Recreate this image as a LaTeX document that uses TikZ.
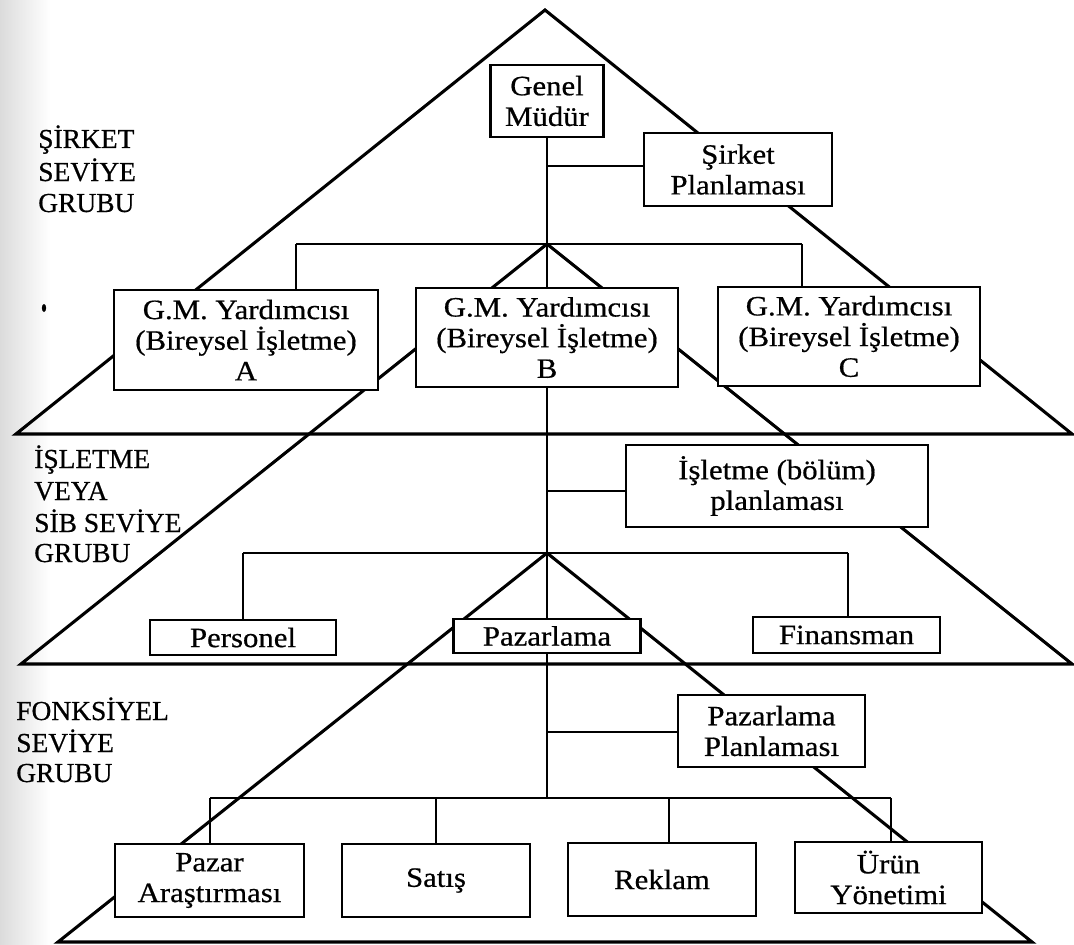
\documentclass[tikz,border=0pt]{standalone}
\usepackage{fontspec}
\setmainfont{Liberation Serif}[FakeBold=0.6]
\newfontfamily\boxfont{Liberation Serif}[FakeStretch=1.1,FakeBold=0.6]
\usetikzlibrary{calc}
\pgfdeclarelayer{background}
\pgfsetlayers{background,main}
\begin{document}
\begin{tikzpicture}[x=0.75pt,y=-0.75pt,
  tri/.style={line width=2.3pt, line join=miter},
  link/.style={line width=1.7pt},
  unit/.style={draw, line width=1.8pt, fill=white, inner sep=0pt, align=center,
    font=\boxfont\fontsize{21}{23}\selectfont},
  sz/.style 2 args={minimum width=#1*0.75pt, minimum height=#2*0.75pt},
  lvl/.style={anchor=base west, inner sep=0pt, font=\fontsize{20.6}{24}\selectfont}]
\useasboundingbox (0,0) rectangle (1074,945);

% corner points of the three level triangles and the branch points
\coordinate (top) at (545,10);
\coordinate (t1l) at (16,434);
\coordinate (t1r) at (1072,434);
\coordinate (j1) at (547,244);
\coordinate (t2l) at (21,664);
\coordinate (t2r) at (1072,664);
\coordinate (j2) at (547,553);
\coordinate (t3l) at (58,942);
\coordinate (t3r) at (1032,942);
\coordinate (j3) at (547,798);
\coordinate (b1l) at (296,244);
\coordinate (b1r) at (802,244);
\coordinate (b2l) at (243,553);
\coordinate (b2r) at (848,553);
\coordinate (b3l) at (210,798);
\coordinate (b3r) at (891,798);
\coordinate (b3s) at (436,798);
\coordinate (b3k) at (669,798);
% tee points of the planning staff lines
\coordinate (tsp) at (547,166);
\coordinate (tip) at (547,491);
\coordinate (tpp) at (547,732);

% company level
\node[unit, sz={113}{72}] (gm) at (547,101) {Genel\\Müdür};
\node[unit, sz={188}{73}] (sp) at (738,169.5) {Şirket\\Planlaması};
\node[unit, sz={264}{100}] (ga) at (246,340) {G.M. Yardımcısı\\(Bireysel İşletme)\\A};
\node[unit, sz={262}{99}] (gb) at (547,337.5) {G.M. Yardımcısı\\(Bireysel İşletme)\\B};
\node[unit, sz={262}{99}] (gc) at (849,336.5) {G.M. Yardımcısı\\(Bireysel İşletme)\\C};

% business level
\node[unit, sz={302}{82}] (ip) at (777,486) {İşletme (bölüm)\\planlaması};
\node[unit, sz={186}{35}] (per) at (243,637.5) {Personel};
\node[unit, sz={187}{34}] (paz) at (547,636) {Pazarlama};
\node[unit, sz={187}{36}] (fin) at (846.5,635) {Finansman};

% functional level
\node[unit, sz={187}{72}] (pp) at (771.5,731) {Pazarlama\\Planlaması};
\node[unit, sz={189}{73}] (pa) at (209.5,880.5) {Pazar\\Araştırması};
\node[unit, sz={188}{73}] (sat) at (436,880.5) {Satış};
\node[unit, sz={188}{73}] (rek) at (662,879.5) {Reklam};
\node[unit, sz={187}{71}] (urun) at (888.5,877.5) {Ürün\\Yönetimi};

% level captions
\node[lvl] (s1) at (38,148) {ŞİRKET};
\node[lvl] (s2) at (38,181) {SEVİYE};
\node[lvl] (s3) at (38,212) {GRUBU};
\node[lvl] (i1) at (34,468) {İŞLETME};
\node[lvl] (i2) at (34,500) {VEYA};
\node[lvl] (i3) at (34,532) {SİB SEVİYE};
\node[lvl] (i4) at (34,562) {GRUBU};
\node[lvl] (f1) at (16,720) {FONKSİYEL};
\node[lvl] (f2) at (16,752) {SEVİYE};
\node[lvl] (f3) at (16,782) {GRUBU};

\fill (44,308) ellipse [x radius=1.6pt, y radius=3pt];

\begin{pgfonlayer}{background}
  \shade[left color=black!14, right color=white] (0,0) rectangle (50,945);
  % level triangles, hidden behind the boxes
  \draw[tri] (top) -- (t1l) -- (t1r) -- cycle;
  \draw[tri] (j1) -- (t2l) -- (t2r) -- cycle;
  \draw[tri] (j2) -- (t3l) -- (t3r) -- cycle;
  % reporting lines
  \draw[link] (gm.south) -- (j1);
  \draw[link] (tsp) -- (sp.west |- tsp);
  \draw[link] (b1l) -- (b1r);
  \draw[link] (b1l) -- (b1l |- ga.north);
  \draw[link] (b1r) -- (b1r |- gc.north);
  \draw[link] (j1) -- (gb.north);
  \draw[link] (gb.south) -- (j2);
  \draw[link] (tip) -- (ip.west |- tip);
  \draw[link] (b2l) -- (b2r);
  \draw[link] (b2l) -- (b2l |- per.north);
  \draw[link] (b2r) -- (b2r |- fin.north);
  \draw[link] (j2) -- (paz.north);
  \draw[link] (paz.south) -- (j3);
  \draw[link] (tpp) -- (pp.west |- tpp);
  \draw[link] (b3l) -- (b3r);
  \draw[link] (b3l) -- (b3l |- pa.north);
  \draw[link] (b3s) -- (sat.north);
  \draw[link] (b3k) -- (b3k |- rek.north);
  \draw[link] (b3r) -- (b3r |- urun.north);
\end{pgfonlayer}
\end{tikzpicture}
\end{document}
